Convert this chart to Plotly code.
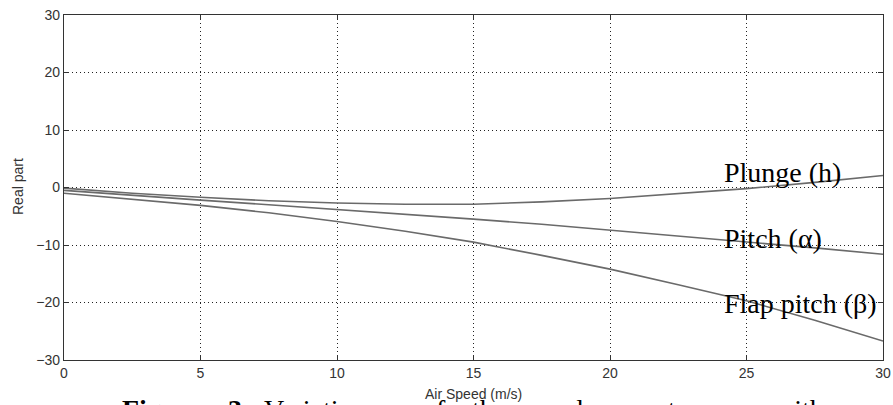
import plotly.graph_objects as go

# Data
air_speed = [0, 2.5, 5, 7.5, 10, 12.5, 15, 17.5, 20, 22.5, 25, 27.5, 30]
plunge = [-0.1, -1.0, -1.7, -2.3, -2.7, -2.9, -2.9, -2.5, -1.9, -1.1, -0.2, 0.9, 2.1]
pitch = [-0.5, -1.4, -2.2, -3.0, -3.8, -4.6, -5.5, -6.4, -7.4, -8.4, -9.5, -10.5, -11.6]
flap_pitch = [-1.0, -2.0, -3.1, -4.4, -5.9, -7.6, -9.5, -11.8, -14.2, -16.9, -19.7, -23.1, -26.7]

series_names = ["Plunge (h)", "Pitch (α)", "Flap pitch (β)"]
series_values = [plunge, pitch, flap_pitch]
label_y = [2.6, -8.8, -20.2]
label_x = 24.1

x_ticks = [0, 5, 10, 15, 20, 25, 30]
y_ticks = [-30, -20, -10, 0, 10, 20, 30]

caption_words = ["<b>Figure</b>", "<b>3:</b>", "Variations", "of", "the", "real", "part", "with", "air", "speed"]
caption_x_px = [120, 226, 262, 420, 470, 540, 630, 772, 889, 930]

W, H = 893, 405
ML, MR, MT, MB = 64, 10, 15, 45
PW = W - ML - MR
PH = H - MT - MB

fig = go.Figure()
for name, vals in zip(series_names, series_values):
    fig.add_trace(go.Scatter(x=air_speed, y=vals, mode="lines", name=name,
                             line=dict(color="#6a6a6a", width=1.6), showlegend=False))

for name, ly in zip(series_names, label_y):
    fig.add_annotation(x=label_x, y=ly, xref="x", yref="y", text=name, showarrow=False,
                       xanchor="left", yanchor="middle",
                       font=dict(family="Liberation Serif", size=28, color="#000"))

axis_common = dict(showline=True, linecolor="#333", linewidth=1.2, mirror="ticks",
                   ticks="inside", ticklen=5, tickcolor="#333", showgrid=True,
                   gridcolor="#222", griddash="1px,3px", gridwidth=1, zeroline=False,
                   automargin=False,
                   tickfont=dict(family="Liberation Sans", size=14, color="#333"))

fig.update_xaxes(range=[0, 30], tickvals=x_ticks, **axis_common)
fig.update_yaxes(range=[-30, 30], tickvals=y_ticks, **axis_common)

fig.add_annotation(x=0.5, y=(360 - 394) / PH, xref="paper", yref="paper",
                   text="Air Speed (m/s)", showarrow=False, xanchor="center", yanchor="middle",
                   font=dict(family="Liberation Sans", size=14, color="#333"))
fig.add_annotation(x=(18 - ML) / PW, y=(360 - 187) / PH, xref="paper", yref="paper",
                   text="Real part", showarrow=False, textangle=-90,
                   xanchor="center", yanchor="middle",
                   font=dict(family="Liberation Sans", size=14, color="#333"))

for word, xp in zip(caption_words, caption_x_px):
    fig.add_annotation(x=(xp - ML) / PW, y=(360 - 392) / PH, xref="paper", yref="paper",
                       text=word, showarrow=False, xanchor="left", yanchor="top",
                       font=dict(family="Liberation Serif", size=28, color="#000"))

fig.update_layout(width=W, height=H, margin=dict(l=ML, r=MR, t=MT, b=MB),
                  paper_bgcolor="white", plot_bgcolor="white")

fig.write_html("out.html")
